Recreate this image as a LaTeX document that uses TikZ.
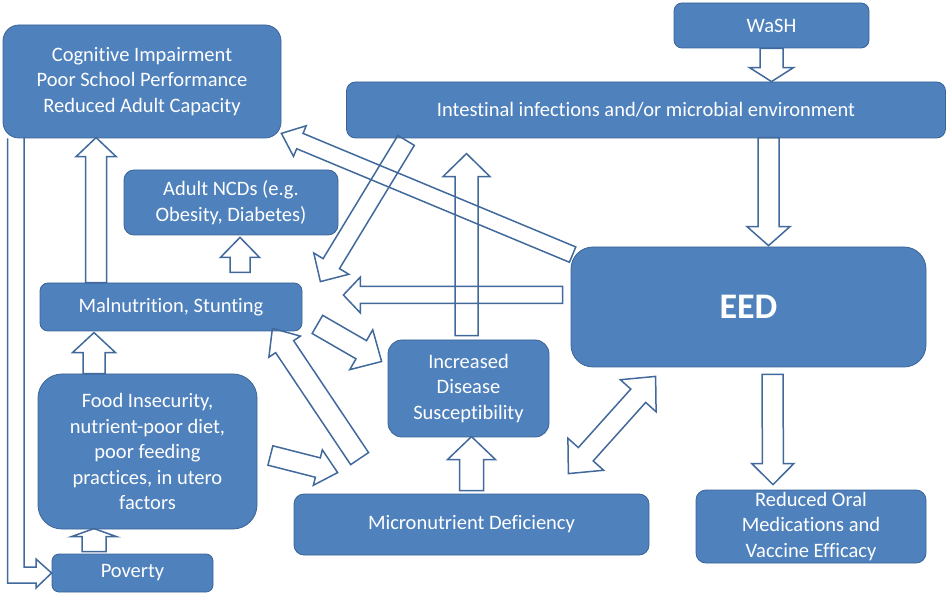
\documentclass[tikz,border=0pt]{standalone}
\usepackage{fontspec}
\setmainfont{Carlito}[Ligatures=CommonOff, Contextuals=AlternateOff]
\usetikzlibrary{calc}

\definecolor{boxblue}{HTML}{4F81BD}
\definecolor{boxline}{HTML}{3A6496}
\definecolor{arrowline}{HTML}{41699B}

% block arrow: start, tip, shaft half width, head half width, head length
\newcommand{\fatarrow}[5]{%
  \coordinate (ta) at #1;
  \coordinate (tb) at #2;
  \coordinate (hb) at ($(tb)!#5pt!(ta)$);
  \draw[blockarrow] ($(ta)!#3pt!90:(tb)$) -- ($(hb)!#3pt!90:(tb)$) -- ($(hb)!#4pt!90:(tb)$) -- (tb)
    -- ($(hb)!#4pt!-90:(tb)$) -- ($(hb)!#3pt!-90:(tb)$) -- ($(ta)!#3pt!-90:(tb)$) -- cycle;
}
% block arrow with two heads
\newcommand{\fatdblarrow}[5]{%
  \coordinate (ta) at #1;
  \coordinate (tb) at #2;
  \coordinate (ha) at ($(ta)!#5pt!(tb)$);
  \coordinate (hb) at ($(tb)!#5pt!(ta)$);
  \draw[blockarrow] (ta) -- ($(ha)!#4pt!90:(tb)$) -- ($(ha)!#3pt!90:(tb)$) -- ($(hb)!#3pt!90:(tb)$)
    -- ($(hb)!#4pt!90:(tb)$) -- (tb) -- ($(hb)!#4pt!-90:(tb)$) -- ($(hb)!#3pt!-90:(tb)$)
    -- ($(ha)!#3pt!-90:(tb)$) -- ($(ha)!#4pt!-90:(tb)$) -- cycle;
}

\begin{document}
\begin{tikzpicture}[x=1pt, y=-1pt,
  box/.style={rectangle, fill=boxblue, draw=boxline, line width=0.8pt, text=white,
    align=center, inner sep=0pt, font=\fontsize{20.5}{25.5}\selectfont},
  blockarrow/.style={draw=arrowline, line width=1.5pt, line join=miter}]
  \useasboundingbox (0,0) rectangle (948,593);

  % boxes
  \node[box, rounded corners=16pt, minimum width=278pt, minimum height=113pt] (cog) at (142,81.5)
    {Cognitive Impairment\\Poor School Performance\\Reduced Adult Capacity};
  \node[box, rounded corners=10pt, minimum width=214pt, minimum height=65pt] (ncd) at (231,202.5)
    {Adult NCDs (e.g.\\Obesity, Diabetes)};
  \node[box, rounded corners=8pt, minimum width=262pt, minimum height=48pt] (mal) at (171,307)
    {Malnutrition, Stunting};
  \node[box, rounded corners=24pt, minimum width=219pt, minimum height=155pt] (food) at (147.5,451.5)
    {Food Insecurity,\\nutrient-poor diet,\\poor feeding\\practices, in utero\\factors};
  \node[box, rounded corners=7pt, minimum width=161pt, minimum height=38pt] (pov) at (132.5,573)
    {Poverty};
  \node[box, rounded corners=9pt, minimum width=599pt, minimum height=56pt] (inf) at (646,110)
    {Intestinal infections and/or microbial environment};
  \node[box, rounded corners=8pt, minimum width=195pt, minimum height=45pt] (wash) at (771.5,25.5)
    {WaSH};
  \node[box, rounded corners=22pt, minimum width=355pt, minimum height=120pt,
    font=\fontsize{36}{40}\selectfont\bfseries] (eed) at (748.5,307) {EED};
  \node[box, rounded corners=14pt, minimum width=161pt, minimum height=97pt] (dis) at (468.5,388.5)
    {Increased\\Disease\\Susceptibility};
  \node[box, rounded corners=10pt, minimum width=355pt, minimum height=61pt] (mic) at (471.5,524.5)
    {Micronutrient Deficiency};
  \node[box, rounded corners=10pt, minimum width=230pt, minimum height=73pt] (red) at (811,526.5)
    {Reduced Oral\\Medications and\\Vaccine Efficacy};

  % straight arrows
  \fatarrow{(wash.south)}{(wash.south |- inf.north)}{11.5}{22}{14}
  \fatarrow{($(eed.north)+(20,-109)$)}{($(eed.north)+(20,-1)$)}{10.5}{21.5}{19}
  \fatarrow{($(eed.south)+(24,7)$)}{($(red.north)+(-38,-5)$)}{10.5}{21}{21}
  \fatarrow{($(eed.west)+(-8,-12)$)}{($(mal.east)+(41,-12)$)}{8.5}{18}{17}
  \fatarrow{($(dis.north)+(-2,-4)$)}{($(dis.north)+(-2,-186)$)}{11.5}{23.5}{23}
  \fatarrow{($(mal.north west)+(56.5,0)$)}{($(mal.north west)+(56.5,-145)$)}{10.5}{20}{19}
  \fatarrow{($(ncd.south)+(9,37)$)}{($(ncd.south)+(9,2)$)}{10}{19.5}{20}
  \fatarrow{($(food.north)+(-53.5,0)$)}{($(food.north)+(-53.5,-41)$)}{11}{21.5}{20}
  \fatarrow{($(pov.north)+(-38.5,-2)$)}{($(pov.north)+(-38.5,-25)$)}{12}{22.5}{8}
  \fatarrow{($(mic.north)+(0,-3)$)}{($(mic.north)+(0,-57)$)}{12}{24}{23}

  % diagonal arrows
  \fatarrow{($(inf.south west)+(60,2)$)}{($(mal.north east)+(18,-1)$)}{9.6}{20.5}{21}
  \fatarrow{($(eed.north west)+(2,8)$)}{($(cog.south east)+(0,-5)$)}{8.3}{16.6}{20}
  \fatarrow{($(mal.south east)+(15,-7)$)}{($(dis.west)+(-6,-27)$)}{10.5}{23}{23.5}
  \fatarrow{($(mic.north west)+(66,-35)$)}{($(mal.south east)+(-30,-3)$)}{10.8}{19}{22}
  \fatarrow{($(food.east)+(13,4)$)}{($(mic.north west)+(44,-21)$)}{10}{18.3}{20.4}
  \fatdblarrow{($(mic.north east)+(-81,-20)$)}{($(eed.south west)+(85,9)$)}{10}{24}{26}

  % cognitive impairment back to poverty
  \coordinate (lt) at ($(cog.south west)+(5,0)$);
  \draw[blockarrow] (lt) -- (lt |- 0,583) -- (36,583) -- (36,588) -- (pov.west)
    -- (36,559) -- (36,567) -- (24,567) -- (24,138);
\end{tikzpicture}
\end{document}
